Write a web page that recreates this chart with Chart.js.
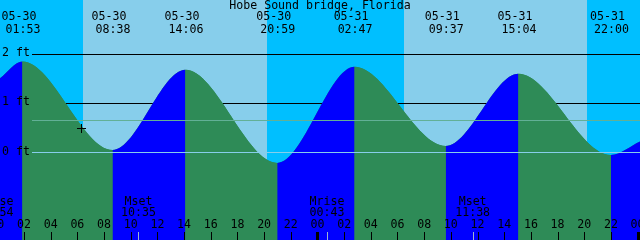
<!DOCTYPE html>
<html>
<head>
<meta charset="utf-8">
<title>Hobe Sound bridge, Florida</title>
<script src="https://cdn.jsdelivr.net/npm/chart.js@4.4.0/dist/chart.umd.min.js"></script>
<style>
  html, body { margin: 0; padding: 0; background: #87CEEB; }
  #wrap { width: 640px; height: 240px; position: relative; }
</style>
</head>
<body>
<div id="wrap"><canvas id="tideChart"></canvas></div>
<script>
// all times are hours counted from 05-30 00:00
const stationName = 'Hobe Sound bridge, Florida';

// tide curve: chart edges plus the highs and lows
const tideTimes  = [0.2, 1.883, 8.633, 14.1, 20.983, 26.783, 33.617, 39.067, 46.0, 48.18];
const tideLevels = [1.50, 1.84, 0.05, 1.67, -0.21, 1.73, 0.13, 1.59, -0.05, 0.22];

// high / low labels along the top
const extremeTimes = [1.883, 8.633, 14.1, 20.983, 26.783, 33.617, 39.067, 46.0];
const extremeDates = ['05-30', '05-30', '05-30', '05-30', '05-31', '05-31', '05-31', '05-31'];
const extremeClock = ['01:53', '08:38', '14:06', '20:59', '02:47', '09:37', '15:04', '22:00'];

// sun and moon
const sunriseTimes = [6.45, 30.48];
const sunsetTimes = [20.18, 44.18];
const moonTimes = [-0.1, 10.583, 24.717, 35.633];
const moonNames = ['Mrise', 'Mset', 'Mrise', 'Mset'];
const moonClock = ['23:54', '10:35', '00:43', '11:38'];

// axes
const levelTicks = [2, 1];
const levelLabels = ['2 ft', '1 ft'];
const datumLevel = 0;
const datumLabel = '0 ft';
const meanLevel = 0.65;
const hourTicks = [0, 2, 4, 6, 8, 10, 12, 14, 16, 18, 20, 22, 24, 26, 28, 30, 32, 34, 36, 38, 40, 42, 44, 46, 48];
const hourLabels = ['00', '02', '04', '06', '08', '10', '12', '14', '16', '18', '20', '22',
                    '00', '02', '04', '06', '08', '10', '12', '14', '16', '18', '20', '22', '00'];

// current time marker
const nowTime = 6.27;
const nowLevel = 0.49;

const DAY = '#87CEEB';
const NIGHT = '#00BFFF';
const RISE = '#0000FF';
const FALL = '#2E8B57';
const FONT = '11.6px "DejaVu Sans Mono", "Liberation Mono", monospace';

// --- background, level lines, labels and marks ---
const tideDecor = {
    id: 'tideDecor',
    beforeDatasetsDraw(chart) {
        const { ctx, scales: { x, y } } = chart;
        const W = chart.width, H = chart.height;
        ctx.save();
        ctx.fillStyle = DAY;
        ctx.fillRect(0, 0, W, H);

        // night bands
        ctx.fillStyle = NIGHT;
        const starts = [x.min, ...sunsetTimes];
        const ends = [...sunriseTimes, x.max];
        starts.forEach((s, i) => {
            const x0 = Math.round(x.getPixelForValue(s));
            const x1 = Math.round(x.getPixelForValue(ends[i]));
            ctx.fillRect(x0, 0, x1 - x0, H);
        });

        // foot lines behind the water
        ctx.strokeStyle = '#000';
        ctx.lineWidth = 1;
        levelTicks.forEach(v => {
            const py = Math.round(y.getPixelForValue(v)) + 0.5;
            ctx.beginPath();
            ctx.moveTo(32, py);
            ctx.lineTo(W, py);
            ctx.stroke();
        });
        ctx.restore();
    },
    afterDatasetsDraw(chart) {
        const { ctx, scales: { x, y } } = chart;
        const W = chart.width, H = chart.height;
        ctx.save();
        ctx.lineWidth = 1;

        // datum and mean level lines over the water
        const dy = Math.round(y.getPixelForValue(datumLevel)) + 0.5;
        ctx.strokeStyle = DAY;
        ctx.beginPath(); ctx.moveTo(32, dy); ctx.lineTo(W, dy); ctx.stroke();
        const my = Math.round(y.getPixelForValue(meanLevel)) + 0.5;
        ctx.strokeStyle = '#62b096';
        ctx.beginPath(); ctx.moveTo(32, my); ctx.lineTo(W, my); ctx.stroke();

        ctx.font = FONT;
        ctx.fillStyle = '#000';
        ctx.textBaseline = 'middle';

        // level labels
        ctx.textAlign = 'left';
        levelTicks.forEach((v, i) => ctx.fillText(levelLabels[i], 2, y.getPixelForValue(v) - 1));
        ctx.fillText(datumLabel, 2, y.getPixelForValue(datumLevel) - 1);

        // title and high/low times
        ctx.textAlign = 'center';
        ctx.fillText(stationName, W / 2, 6);
        extremeTimes.forEach((t, i) => {
            const px = x.getPixelForValue(t);
            ctx.fillText(extremeDates[i], px - 3.5, 17);
            ctx.fillText(extremeClock[i], px + 0.5, 30);
        });

        // moon events
        moonTimes.forEach((t, i) => {
            const px = x.getPixelForValue(t);
            ctx.fillText(moonNames[i], px, 202);
            ctx.fillText(moonClock[i], px, 213);
            ctx.strokeStyle = '#9fb6cd';
            const lx = Math.round(px) + 0.5;
            ctx.beginPath(); ctx.moveTo(lx, 232); ctx.lineTo(lx, H); ctx.stroke();
        });

        // hour ticks
        ctx.strokeStyle = '#000';
        hourTicks.forEach((h, i) => {
            const px = x.getPixelForValue(h);
            ctx.fillText(hourLabels[i], px, 225);
            if (h % 24 === 0) {
                ctx.fillRect(Math.round(px) - 1, 232, 3, H - 232);
            } else {
                const lx = Math.round(px) + 0.5;
                ctx.beginPath(); ctx.moveTo(lx, 232); ctx.lineTo(lx, H); ctx.stroke();
            }
        });

        // "+" at the current time
        const cx = Math.round(x.getPixelForValue(nowTime)) + 0.5;
        const cy = Math.round(y.getPixelForValue(nowLevel)) + 0.5;
        ctx.beginPath();
        ctx.moveTo(cx - 4.5, cy); ctx.lineTo(cx + 4.5, cy);
        ctx.moveTo(cx, cy - 4.5); ctx.lineTo(cx, cy + 4.5);
        ctx.stroke();
        ctx.restore();
    }
};

const tidePoints = tideTimes.map((t, i) => ({ x: t, y: tideLevels[i] }));

new Chart(document.getElementById('tideChart'), {
    type: 'line',
    data: {
        datasets: [{
            // rising water blue, falling water green
            data: tidePoints,
            order: 1,
            fill: 'start',
            backgroundColor: FALL,
            borderColor: 'transparent',
            borderWidth: 0,
            pointRadius: 0,
            cubicInterpolationMode: 'monotone',
            segment: {
                backgroundColor: c => c.p1.parsed.y > c.p0.parsed.y ? RISE : FALL,
                borderColor: 'transparent'
            }
        }, {
            // plain underlay so the segment joins leave no gaps
            data: tidePoints,
            order: 2,
            fill: 'start',
            backgroundColor: FALL,
            borderColor: 'transparent',
            borderWidth: 0,
            pointRadius: 0,
            cubicInterpolationMode: 'monotone'
        }]
    },
    options: {
        responsive: true,
        maintainAspectRatio: false,
        animation: false,
        events: [],
        layout: { padding: 0 },
        plugins: { legend: { display: false }, tooltip: { enabled: false } },
        scales: {
            x: { type: 'linear', display: false, min: 0.2, max: 48.18 },
            y: { display: false, min: -1.768, max: 3.081 }
        }
    },
    plugins: [tideDecor]
});
</script>
</body>
</html>
